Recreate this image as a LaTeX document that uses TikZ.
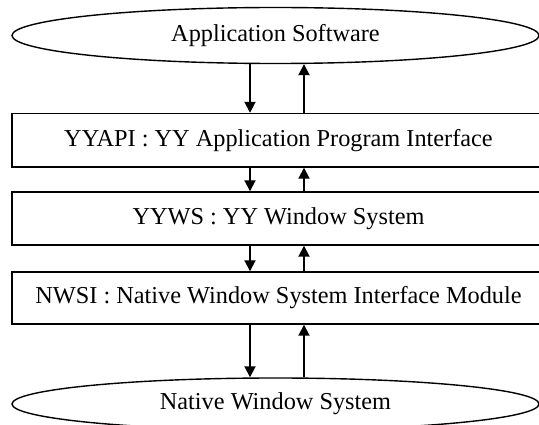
\documentclass[tikz,border=0pt]{standalone}
\usepackage{fontspec}
\setmainfont{Liberation Serif}
\usetikzlibrary{shapes.geometric,arrows.meta}
\begin{document}
\begin{tikzpicture}[x=1pt,y=-1pt,
  lbl/.style={font=\fontsize{24.3}{29}\selectfont},
  oval/.style={draw, ellipse, line width=1.4pt, inner sep=0pt, minimum width=527pt, lbl},
  layer/.style={draw, rectangle, line width=1.4pt, inner sep=0pt, minimum width=533pt, lbl},
  arr/.style={line width=1.8pt, -{Triangle[width=11pt,length=11pt]}}]
\useasboundingbox (0,0) rectangle (539,425);
\clip (0,0) rectangle (539,425);
\node[oval, minimum height=56pt] (app) at (275.5,35.5) {Application Software};
\node[layer, minimum height=53.5pt] (api) at (278.5,140.25) {YYAPI : YY Application Program Interface};
\node[layer, minimum height=53pt] (ws) at (278.5,218.5) {YYWS : YY Window System};
\node[layer, minimum height=52pt] (nwsi) at (278.5,298) {NWSI : Native Window System Interface Module};
\node[oval, minimum height=52pt] (nws) at (275.5,404) {Native Window System};
\coordinate (dL) at (250,0);
\coordinate (dR) at (304,0);
\foreach \a/\b in {app/api, api/ws, ws/nwsi, nwsi/nws} {
  \draw[arr] (\a.south -| dL) -- (\b.north -| dL);
  \draw[arr] (\b.north -| dR) -- (\a.south -| dR);
}
\end{tikzpicture}
\end{document}
